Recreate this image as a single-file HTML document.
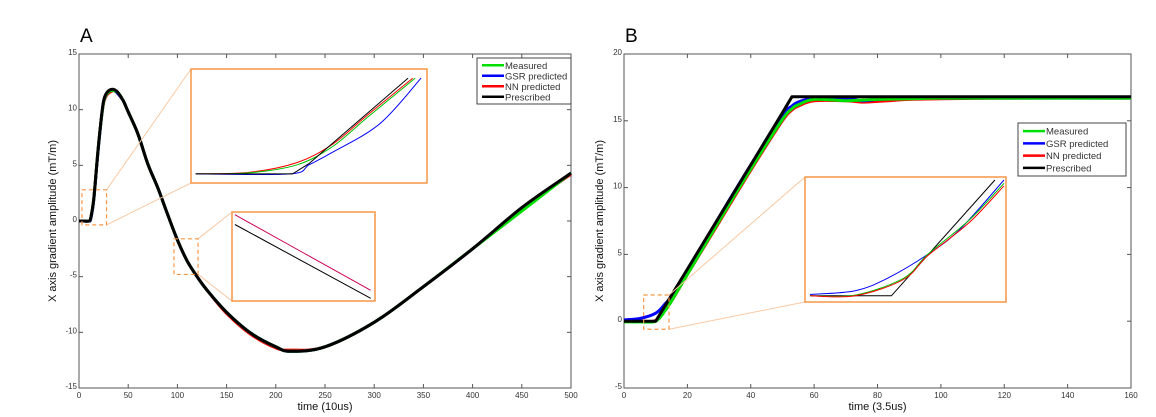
<!DOCTYPE html>
<html><head><meta charset="utf-8">
<style>
html,body{margin:0;padding:0;background:#fff;}
svg{display:block;font-family:"Liberation Sans",Arial,sans-serif;}
</style></head>
<body>
<svg id="fig" width="1156" height="417" viewBox="0 0 1156 417" xmlns="http://www.w3.org/2000/svg"></svg>
<script>
// ---------- Panel A data ----------
const aTime = [0,5,10,12,15,18,20,23,25,28,32,36,40,45,50,60,70,80,90,100,110,120,130,150,175,200,215,250,300,350,400,450,500];
const aPrescribed = [0,0,0,0.3,2,5,7,9.5,10.8,11.5,11.8,11.8,11.5,10.8,9.8,7.8,5.1,3.0,0.6,-1.7,-3.6,-5,-6.2,-8.2,-10.1,-11.3,-11.7,-11.3,-9.1,-5.9,-2.5,1.2,4.3];
const aMeasured = [0,0,0,0.3,2,5,7,9.4,10.7,11.4,11.7,11.7,11.5,10.8,9.8,7.8,5.1,3.0,0.6,-1.7,-3.6,-5,-6.2,-8.2,-10.1,-11.3,-11.7,-11.3,-9.1,-5.9,-2.5,0.9,4.3];
const aGSR = [0,0,0,0.2,1.9,4.9,6.9,9.4,10.7,11.4,11.7,11.7,11.4,10.8,9.8,7.8,5.1,3.0,0.6,-1.7,-3.6,-5,-6.2,-8.2,-10.1,-11.3,-11.7,-11.3,-9.1,-5.9,-2.5,1.1,4.3];
const aNN = [0,0,0,0.3,2,5,7,9.4,10.6,11.3,11.6,11.7,11.4,10.8,9.8,7.8,5.1,3.0,0.6,-1.7,-3.6,-5,-6.2,-8.3,-10.2,-11.4,-11.6,-11.3,-9.1,-5.9,-2.5,1.1,4.2];
const aXTicks = [0,50,100,150,200,250,300,350,400,450,500];
const aYTicks = [-15,-10,-5,0,5,10,15];
// Inset A1 (local 0..100 units)
const a1X = {black:[2,43,50,92], green:[2,25,45,60,75,95], red:[2,25,45,60,75,94], blue:[2,42,50,60,80,97.5]};
const a1Y = {black:[8,8,17,92], green:[8,9,16,32,58,92], red:[8,9.5,18,34,60,92], blue:[8,8,16,27,52,92]};
// Inset A2
const a2X = {colored:[2,97], black:[2,97]};
const a2Y = {colored:[97,12], black:[86,3]};

// ---------- Panel B data ----------
const bTime = [0,5,10,13,15,20,30,40,50,53,55,60,70,75,80,90,100,120,160];
const bPrescribed = [0,0,0,1.17,1.95,3.9,7.8,11.7,15.6,16.8,16.8,16.8,16.8,16.8,16.8,16.8,16.8,16.8,16.8];
const bMeasured = [-0.05,-0.05,0,0.8,1.5,3.5,7.5,11.4,15.1,15.9,16.2,16.6,16.5,16.55,16.6,16.65,16.7,16.7,16.7];
const bGSR = [0.1,0.2,0.6,1.3,1.9,3.8,7.8,11.7,15.4,16.1,16.4,16.7,16.7,16.5,16.6,16.7,16.7,16.7,16.7];
const bNN = [0,0,0.05,0.9,1.5,3.5,7.4,11.3,15.0,15.8,16.1,16.5,16.5,16.4,16.45,16.6,16.65,16.7,16.7];
const bXTicks = [0,20,40,60,80,100,120,140,160];
const bYTicks = [-5,0,5,10,15,20];
// Inset B (local 0..100 units)
const b1X = {black:[2.5,43,94.5], blue:[2.5,25,41,61,77,99], green:[2.5,25,49,61,82,99], red:[2.5,25,49,61,82,99]};
const b1Y = {black:[5,5,97.6], blue:[6,9,19,38,58,97.6], green:[5,5.5,19,38,66,95], red:[5,5,18,37,64,93]};

const labels = ["Measured","GSR predicted","NN predicted","Prescribed"];
const colors = ["#00e000","#0000ff","#ff0000","#000000"];

const NS="http://www.w3.org/2000/svg";
const svg=document.getElementById('fig');
function el(tag,attrs,parent){const e=document.createElementNS(NS,tag);for(const k in attrs)e.setAttribute(k,attrs[k]);(parent||svg).appendChild(e);return e;}
function lin(d0,d1,r0,r1){return v=>r0+(v-d0)*(r1-r0)/(d1-d0);}
function pathD(xs,ys,sx,sy,smooth){
  const P=xs.map((x,i)=>[sx(x),sy(ys[i])]);
  if(!smooth) return P.map((p,i)=>(i?'L':'M')+p[0].toFixed(1)+','+p[1].toFixed(1)).join('');
  let d='M'+P[0][0].toFixed(1)+','+P[0][1].toFixed(1);
  for(let i=0;i<P.length-1;i++){
    const p0=P[Math.max(0,i-1)],p1=P[i],p2=P[i+1],p3=P[Math.min(P.length-1,i+2)];
    const c1=[p1[0]+(p2[0]-p0[0])/6,p1[1]+(p2[1]-p0[1])/6];
    const c2=[p2[0]-(p3[0]-p1[0])/6,p2[1]-(p3[1]-p1[1])/6];
    d+='C'+c1[0].toFixed(1)+','+c1[1].toFixed(1)+' '+c2[0].toFixed(1)+','+c2[1].toFixed(1)+' '+p2[0].toFixed(1)+','+p2[1].toFixed(1);
  }
  return d;
}

function panel(cfg){
  const g=el('g',{});
  
  
  const sx=lin(cfg.xd[0],cfg.xd[1],cfg.L,cfg.R), sy=lin(cfg.yd[0],cfg.yd[1],cfg.B,cfg.T);
  const fr=el('rect',{x:cfg.L,y:cfg.T,width:cfg.R-cfg.L,height:cfg.B-cfg.T,fill:'#fff',stroke:'#555','stroke-width':1},g);
  
  
  cfg.xt.forEach(v=>{
    const x=sx(v);
    el('line',{x1:x,y1:cfg.B,x2:x,y2:cfg.B-4,stroke:'#555'},g);
    el('line',{x1:x,y1:cfg.T,x2:x,y2:cfg.T+4,stroke:'#555'},g);
    const t=el('text',{x:x,y:cfg.B+10,'font-size':8,'text-anchor':'middle',fill:'#333'},g);
    t.textContent=v;
    
    
  });
  cfg.yt.forEach(v=>{
    const y=sy(v);
    el('line',{x1:cfg.L,y1:y,x2:cfg.L+4,y2:y,stroke:'#555'},g);
    el('line',{x1:cfg.R,y1:y,x2:cfg.R-4,y2:y,stroke:'#555'},g);
    const t=el('text',{x:cfg.L-2,y:y+1,'font-size':8,'text-anchor':'end',fill:'#333'},g);
    t.textContent=v;
    
    
  });
  const xl=el('text',{x:(cfg.L+cfg.R)/2,y:cfg.B+22,'font-size':11,'text-anchor':'middle',fill:'#111'},g);
  xl.textContent=cfg.xlabel;
  
  
  const yl=el('text',{x:0,y:0,'font-size':11,'text-anchor':'middle',fill:'#111',transform:`translate(${cfg.ylx},${(cfg.T+cfg.B)/2}) rotate(-90)`},g);
  yl.textContent='X axis gradient amplitude  (mT/m)';
  
  
  const pl=el('text',{x:cfg.L+1,y:cfg.T-12,'font-size':19,fill:'#000'},g);
  pl.textContent=cfg.letter;
  
  
  const order=[[cfg.series[2],2,'nn-predicted-line'],[cfg.series[1],1,'gsr-predicted-line'],[cfg.series[0],0,'measured-line'],[cfg.series[3],3,'prescribed-line']];
  order.forEach(([ys,ci,nm])=>{
    const sm = !(ci==3 && !cfg.smoothBlack);
    const p=el('path',{d:pathD(cfg.time,ys,sx,sy,sm),fill:'none',stroke:colors[ci],'stroke-width':3,'stroke-linejoin':'round'},g);
    
    
  });
  return {g,sx,sy};
}

function inset(g,box,dash,xs,ys,keys,sx,sy,name){
  const [x0,y0,x1,y1]=box;
  const dx0=sx(dash[0]),dx1=sx(dash[1]),dy0=sy(dash[3]),dy1=sy(dash[2]);
  el('line',{x1:dx1,y1:dy0,x2:x0,y2:y0,stroke:'#f9c9a4','stroke-width':1},g);
  el('line',{x1:dx1,y1:dy1,x2:x0,y2:y1,stroke:'#f9c9a4','stroke-width':1},g);
  const d=el('rect',{x:dx0,y:dy0,width:dx1-dx0,height:dy1-dy0,fill:'none',stroke:'#f79646','stroke-width':1.2,'stroke-dasharray':'4,3'},g);
  
  
  const r=el('rect',{x:x0,y:y0,width:x1-x0,height:y1-y0,fill:'#fff',stroke:'#f79646','stroke-width':1.5},g);
  
  
  const ix=lin(0,100,x0,x1), iy=lin(0,100,y1,y0);
  keys.forEach(([k,c])=>{
    const p=el('path',{d:pathD(xs[k],ys[k],ix,iy,k!=='black'),fill:'none',stroke:c,'stroke-width':1}, g);
    
    
  });
}

function legend(g,x,y,w,h){
  const lg=el('g',{},g);
  
  
  el('rect',{x:x,y:y,width:w,height:h,fill:'#fff',stroke:'#444','stroke-width':1},lg);
  const step=(h-4)/4;
  labels.forEach((lab,i)=>{
    const cy=y+2+step*(i+0.5);
    const e=el('g',{},lg);
    
    
    el('line',{x1:x+5,y1:cy,x2:x+27,y2:cy,stroke:colors[i],'stroke-width':2.5},e);
    const t=el('text',{x:x+28,y:cy+3.5,'font-size':9.5,fill:'#333'},e);
    t.textContent=lab;
  });
}

// Panel A
const A=panel({name:'panel-a',L:79,R:571,T:54,B:388,xd:[0,500],yd:[-15,15],xt:aXTicks,yt:aYTicks,time:aTime,
  series:[aMeasured,aGSR,aNN,aPrescribed],xlabel:'time (10us)',ylx:56,letter:'A',smoothBlack:true});
inset(A.g,[191,69,427,183],[3,28,-0.35,2.8],a1X,a1Y,[['red','#ff0000'],['green','#00c000'],['blue','#0000ff'],['black','#000']],A.sx,A.sy,'inset-a1');
inset(A.g,[232,212,375,301],[96.5,121,-4.8,-1.6],a2X,a2Y,[['black','#000'],['colored','#cc0055']],A.sx,A.sy,'inset-a2');
legend(A.g,477,58,94,46);

// Panel B
const B=panel({name:'panel-b',L:624,R:1131,T:54,B:388,xd:[0,160],yd:[-5,20],xt:bXTicks,yt:bYTicks,time:bTime,
  series:[bMeasured,bGSR,bNN,bPrescribed],xlabel:'time (3.5us)',ylx:603,letter:'B',smoothBlack:false});
inset(B.g,[805,177,1006,302],[6.2,14.2,-0.6,1.96],b1X,b1Y,[['black','#000'],['blue','#0000ff'],['green','#00c000'],['red','#ff0000']],B.sx,B.sy,'inset-b');
legend(B.g,1018,123,108,53);
</script>
</body></html>
